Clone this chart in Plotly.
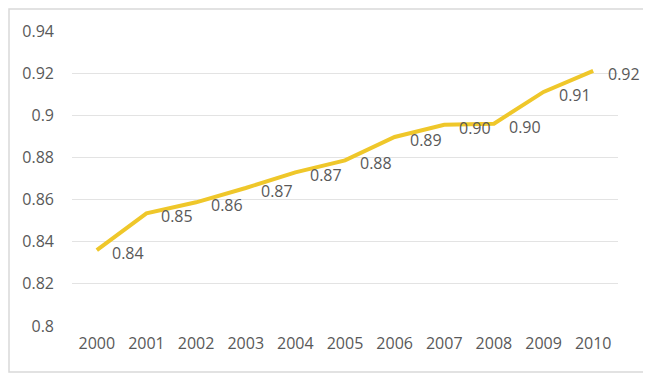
import plotly.graph_objects as go

years = [2000, 2001, 2002, 2003, 2004, 2005, 2006, 2007, 2008, 2009, 2010]
values = [0.836, 0.8535, 0.8587, 0.8655, 0.8729, 0.8786, 0.8897, 0.8955, 0.8960, 0.9111, 0.9211]
y_ticks = [0.8, 0.82, 0.84, 0.86, 0.88, 0.9, 0.92, 0.94]
y_tick_text = ["0.8", "0.82", "0.84", "0.86", "0.88", "0.9", "0.92", "0.94"]

font_family = "Open Sans, Noto Sans, sans-serif"
gray = "#595959"
fsize = 16

fig = go.Figure()
fig.add_trace(go.Scatter(
    x=years, y=values,
    mode="lines",
    line=dict(color="#EFC72A", width=4),
    hoverinfo="x+y",
))

for yr, v in zip(years, values):
    fig.add_annotation(x=yr, y=v, text=f"{v:.2f}", showarrow=False,
                       xanchor="left", yanchor="middle", xshift=13, yshift=-3,
                       font=dict(family=font_family, size=fsize, color=gray))

# page body has an 8px margin, compensate so the plot lands where the reference has it
OFF = 8
W, H = 651, 380
L, T = 72 - OFF, 31 - OFF
R = W - (618 - OFF)
B = H - (326 - OFF)
pw, ph = W - L - R, H - T - B

def px(xp):
    return (xp - OFF - L) / pw

def py(yp):
    return (H - B - (yp - OFF)) / ph

fig.add_shape(type="rect", xref="paper", yref="paper",
              x0=px(9), x1=px(646), y0=py(372), y1=py(9),
              line=dict(color="#d9d9d9", width=1.5), fillcolor="rgba(0,0,0,0)",
              layer="below")

fig.update_layout(
    width=W, height=H,
    margin=dict(l=L, r=R, t=T, b=B, autoexpand=False),
    paper_bgcolor="white", plot_bgcolor="white",
    showlegend=False,
    font=dict(family=font_family, size=fsize, color=gray),
    xaxis=dict(
        range=[1999.5, 2010.5], automargin=False,
        tickmode="array", tickvals=years, ticktext=[str(y) for y in years],
        showgrid=False, zeroline=False, showline=False,
        ticks="", tickfont=dict(family=font_family, size=fsize, color=gray),
        ticklabelstandoff=6,
    ),
    yaxis=dict(
        range=[0.8, 0.94], automargin=False,
        tickvals=y_ticks, ticktext=y_tick_text,
        showgrid=True, gridcolor="#e3e3e3", gridwidth=1,
        zeroline=False, showline=False, ticks="",
        tickfont=dict(family=font_family, size=fsize, color=gray),
        ticklabelstandoff=17,
    ),
)

fig.write_html("out.html")
